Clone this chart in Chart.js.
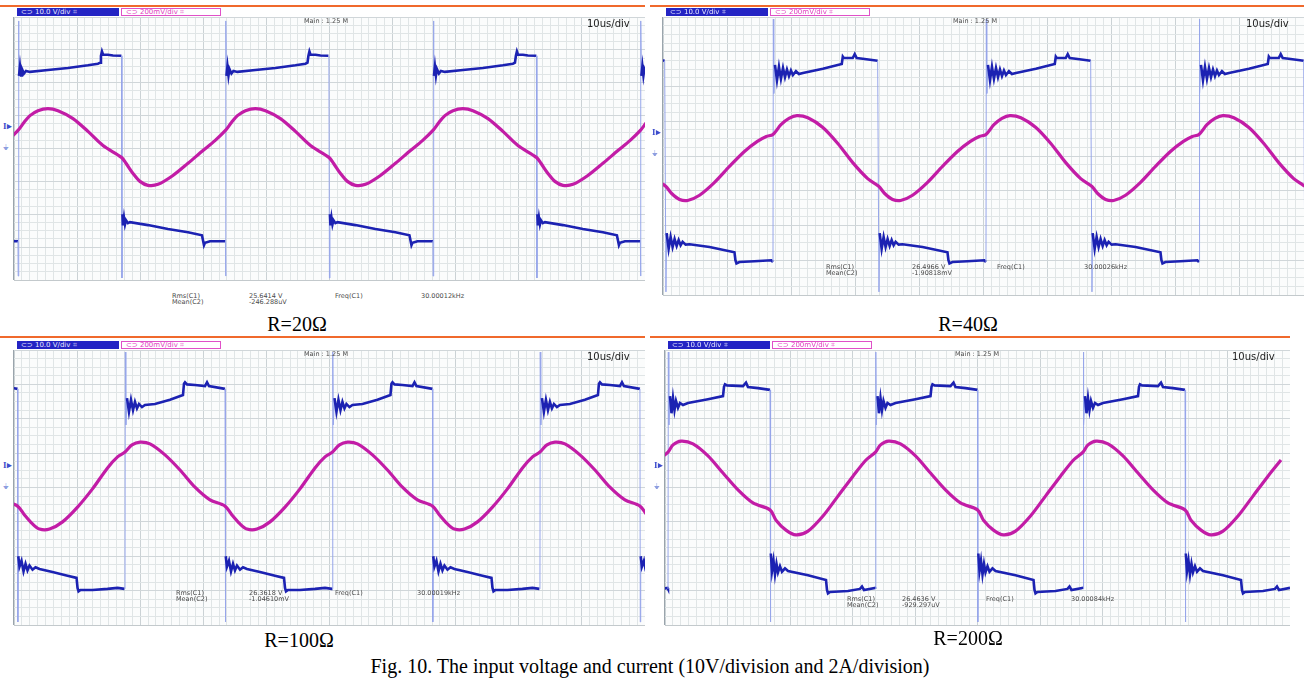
<!DOCTYPE html>
<html lang="en">
<head>
<meta charset="UTF-8">
<title>Fig. 10 - input voltage and current</title>
<script src="https://cdn.jsdelivr.net/npm/chart.js"></script>
<style>
    body {
        margin: 0;
        width: 1304px;
        height: 688px;
        position: relative;
        overflow: hidden;
        background: #ffffff;
        font-family: 'DejaVu Sans', sans-serif;
    }

    canvas.scope {
        position: absolute;
        background: #fbfcfc;
        box-shadow: -1px 0 0 #9aa4ac, 0 1px 0 #c3c9cc;
    }

    .orange {
        position: absolute;
        height: 2px;
        background: #f0692c;
    }

    .ch1, .ch2 {
        position: absolute;
        height: 8px;
        font-size: 7px;
        line-height: 8px;
        box-sizing: border-box;
        padding-left: 4px;
        white-space: nowrap;
        overflow: hidden;
    }

    .ch1 {
        background: #2424c4;
        color: #e8e8ff;
    }

    .ch2 {
        background: #ffffff;
        border: 1px solid #e050c8;
        line-height: 6px;
        color: #e040c0;
    }

    .txt {
        position: absolute;
        font-size: 6.5px;
        line-height: 6px;
        color: #4a4a4a;
        white-space: pre;
    }

    .tdiv {
        position: absolute;
        font-size: 10px;
        color: #222222;
        white-space: nowrap;
    }

    .mark {
        position: absolute;
        font-family: 'Liberation Serif', serif;
        font-weight: bold;
        font-size: 10px;
        color: #3c4ccc;
    }

    .gnd {
        position: absolute;
        font-size: 8px;
        color: #8e9ee0;
    }

    .caption {
        position: absolute;
        font-family: 'Liberation Serif', serif;
        font-size: 20px;
        color: #000000;
        transform: translateX(-50%);
        white-space: nowrap;
    }
</style>
</head>

<body>

<script>
    // time in microseconds after a rising edge (one period), level in screen divisions
    const panelNames = ['R=20Ω', 'R=40Ω', 'R=100Ω', 'R=200Ω'];
    const periodUs = [32.88, 33.23, 32.88, 33.2];
    const firstEdgeUs = [0.63, 17.16, 17.59, 0.48];

    const rmsC1 = ['25.6414 V', '26.4966 V', '26.3618 V', '26.4636 V'];
    const meanC2 = ['-246.288uV', '-1.90818mV', '-1.04610mV', '-929.297uV'];
    const freqC1 = ['30.00012kHz', '30.00026kHz', '30.00019kHz', '30.00084kHz'];

    // R = 20 ohm
    const volt20Time = [0, 0.03, 0.08, 0.16, 0.32, 0.48, 0.63, 0.95, 1.27, 1.9, 4.75, 7.92, 11.09, 12.68, 13.0, 13.15, 13.31, 13.47, 14.26, 15.06,
        16.32, 16.4, 16.48, 16.56, 16.64, 16.8, 16.96, 17.12, 17.43, 17.75, 20.6, 23.77, 26.94, 29.16, 29.32, 29.48, 29.64, 30.43, 31.7];
    const volt20Div = [1.18, 0.12, 7.88, 6.21, 6.5, 6.22, 6.42, 6.28, 6.36, 6.33, 6.39, 6.45, 6.53, 6.58, 6.61, 6.82, 6.95, 6.86, 6.85, 6.83,
        6.82, 6.82, 0.06, 2.0, 1.66, 1.9, 1.69, 1.82, 1.73, 1.76, 1.67, 1.55, 1.45, 1.36, 1.21, 1.06, 1.13, 1.18, 1.18];
    const curr20Time = [0, 0.95, 1.9, 3.17, 4.75, 6.34, 8.72, 11.09, 13.47, 16.4, 17.12, 18.23, 19.33, 20.6, 22.19, 24.56, 26.94, 29.32, 31.22];
    const curr20Div = [4.55, 4.79, 5.0, 5.15, 5.21, 5.15, 4.91, 4.52, 4.09, 3.73, 3.55, 3.24, 3.0, 2.88, 2.91, 3.18, 3.55, 3.94, 4.24];

    // R = 40 ohm
    const volt40Time = [0, 0.05, 0.12, 0.31, 0.62, 0.93, 1.24, 1.56, 1.87, 2.18, 2.49, 2.8, 3.11, 3.58, 4.04, 4.67, 7.78, 10.73, 10.89, 11.04,
        12.44, 12.75, 13.06, 14.0, 16.33, 16.53, 16.64, 16.95, 17.26, 17.57, 17.88, 18.2, 18.51, 18.82, 19.13, 19.6, 20.22, 23.33, 27.22, 27.37,
        27.53, 27.99, 30.33, 32.97];
    const volt40Div = [0.95, 7.94, 5.8, 6.62, 6.18, 6.57, 6.22, 6.53, 6.27, 6.49, 6.3, 6.46, 6.33, 6.44, 6.36, 6.39, 6.51, 6.65, 6.86, 6.82,
        6.82, 6.93, 6.82, 6.8, 6.74, 0.09, 1.78, 1.33, 1.67, 1.38, 1.61, 1.41, 1.58, 1.43, 1.53, 1.45, 1.46, 1.38, 1.23, 1.0,
        0.91, 0.95, 0.97, 1.0];
    const curr40Time = [0, 1.24, 2.49, 3.73, 5.44, 7.78, 10.11, 12.44, 14.77, 16.49, 17.42, 18.66, 19.91, 21.77, 24.11, 26.44, 28.77, 30.79, 32.19];
    const curr40Div = [4.62, 4.9, 5.08, 5.16, 5.1, 4.82, 4.36, 3.81, 3.35, 3.13, 2.92, 2.75, 2.72, 2.87, 3.24, 3.7, 4.13, 4.42, 4.56];

    // R = 100 ohm
    const volt100Time = [0, 0.05, 0.13, 0.32, 0.63, 0.95, 1.27, 1.58, 1.9, 2.22, 2.69, 3.17, 4.75, 7.13, 9.19, 9.35, 9.51, 9.83, 11.09, 12.68,
        13.0, 13.31, 15.85, 15.9, 15.97, 16.16, 16.48, 16.8, 17.12, 17.43, 17.75, 18.23, 18.7, 19.33, 21.39, 23.77, 25.2, 25.36, 25.52, 25.83,
        27.73, 30.11, 31.7, 32.8];
    const volt100Div = [1.05, 7.94, 5.82, 6.6, 6.2, 6.55, 6.25, 6.49, 6.3, 6.43, 6.34, 6.4, 6.43, 6.55, 6.69, 7.02, 7.06, 7.0, 6.98, 6.95,
        7.06, 6.95, 6.87, 0.09, 2.0, 1.7, 1.87, 1.56, 1.78, 1.59, 1.73, 1.61, 1.68, 1.63, 1.54, 1.43, 1.37, 1.08, 0.98, 1.02,
        1.02, 1.05, 1.08, 1.05];
    const curr100Time = [0, 1.11, 2.38, 3.96, 6.34, 8.72, 11.09, 13.47, 15.85, 16.96, 18.23, 19.33, 20.92, 22.98, 25.36, 27.73, 30.11, 31.7];
    const curr100Div = [5.03, 5.24, 5.32, 5.27, 4.95, 4.51, 4.01, 3.64, 3.46, 3.2, 2.94, 2.79, 2.79, 3.0, 3.43, 3.96, 4.57, 4.89];

    // R = 200 ohm
    const volt200Time = [0, 0.05, 0.13, 0.32, 0.56, 0.8, 1.04, 1.28, 1.6, 1.92, 2.4, 3.2, 6.4, 8.8, 8.96, 9.12, 9.44, 12.0, 12.48, 12.8,
        14.4, 16.32, 16.37, 16.45, 16.64, 16.88, 17.12, 17.36, 17.6, 17.92, 18.24, 18.72, 19.2, 22.4, 25.28, 25.44, 25.6, 25.92, 28.8, 30.72,
        31.04, 31.36, 33.12];
    const volt200Div = [1.05, 7.94, 5.82, 6.66, 6.16, 6.6, 6.25, 6.52, 6.32, 6.46, 6.4, 6.46, 6.57, 6.66, 6.93, 7.0, 6.97, 6.95, 7.05, 6.92,
        6.89, 6.84, 0.09, 2.08, 1.57, 1.87, 1.47, 1.78, 1.53, 1.71, 1.55, 1.65, 1.57, 1.45, 1.31, 1.02, 0.92, 0.96, 0.99, 1.05,
        1.12, 1.02, 1.08];
    const curr200Time = [0, 0.8, 2.08, 4.0, 6.4, 8.8, 11.2, 13.6, 16.32, 17.28, 18.88, 20.48, 22.4, 24.8, 27.2, 29.6, 31.68];
    const curr200Div = [5.03, 5.24, 5.35, 5.27, 4.92, 4.42, 3.93, 3.55, 3.35, 3.05, 2.76, 2.62, 2.73, 3.17, 3.75, 4.33, 4.8];

    const voltTimes = [volt20Time, volt40Time, volt100Time, volt200Time];
    const voltDivs = [volt20Div, volt40Div, volt100Div, volt200Div];
    const currTimes = [curr20Time, curr40Time, curr100Time, curr200Time];
    const currDivs = [curr20Div, curr40Div, curr100Div, curr200Div];

    // screen layout of each scope shot (plot rectangle) and its caption
    const layout = [
        {left: 14, top: 17, w: 631, h: 263, orangeY: 5, orangeX: 0, orangeW: 645, capX: 297, capY: 313, measY: 293},
        {left: 663, top: 17, w: 641, h: 278, orangeY: 5, orangeX: 650, orangeW: 654, capX: 968, capY: 313, measY: 264},
        {left: 14, top: 350, w: 631, h: 275, orangeY: 336, orangeX: 0, orangeW: 645, capX: 299, capY: 629, measY: 590},
        {left: 665, top: 350, w: 625, h: 275, orangeY: 336, orangeX: 650, orangeW: 640, capX: 968, capY: 627, measY: 596}
    ];
    const measCols = [
        [172, 249, 335, 421],
        [826, 912, 997, 1084],
        [176, 249, 335, 417],
        [847, 902, 986, 1071]
    ];

    function el(cls, text, css) {
        const d = document.createElement('div');
        d.className = cls;
        if (text) d.textContent = text;
        Object.assign(d.style, css);
        document.body.appendChild(d);
        return d;
    }

    // repeat the one-period trace over the 100 us screen
    function tile(times, values, first, period) {
        const pts = [];
        for (let k = -1; first + k * period < 100; k++) {
            for (let i = 0; i < times.length; i++) {
                pts.push({x: first + k * period + times[i], y: values[i]});
            }
        }
        return pts;
    }

    // switching edges are drawn thin and pale, like on the scope
    function isEdge(ctx) {
        return Math.abs(ctx.p1.x - ctx.p0.x) < 3 && Math.abs(ctx.p1.y - ctx.p0.y) > 25;
    }

    function near(v, step) {
        return Math.abs(v / step - Math.round(v / step)) < 1e-6;
    }

    layout.forEach((L, p) => {
        el('orange', '', {left: L.orangeX + 'px', top: L.orangeY + 'px', width: L.orangeW + 'px'});
        el('ch1', '⊂⊃  10.0 V/div  ⌗', {left: (L.left + 3) + 'px', top: (L.top - 9) + 'px', width: '102px'});
        el('ch2', '⊂⊃  200mV/div  ⌗', {left: (L.left + 107) + 'px', top: (L.top - 9) + 'px', width: '100px'});

        const c = document.createElement('canvas');
        c.className = 'scope';
        c.width = L.w;
        c.height = L.h;
        c.style.left = L.left + 'px';
        c.style.top = L.top + 'px';
        document.body.appendChild(c);

        new Chart(c, {
            type: 'scatter',
            data: {
                datasets: [{
                    data: tile(currTimes[p], currDivs[p], firstEdgeUs[p], periodUs[p]),
                    showLine: true,
                    borderColor: '#c21ca6',
                    borderWidth: 3.2,
                    pointRadius: 0,
                    tension: 0.3
                }, {
                    data: tile(voltTimes[p], voltDivs[p], firstEdgeUs[p], periodUs[p]),
                    showLine: true,
                    borderColor: '#1c22b2',
                    borderWidth: 2.6,
                    pointRadius: 0,
                    tension: 0,
                    segment: {
                        borderColor: ctx => isEdge(ctx) ? '#97a6ea' : undefined,
                        borderWidth: ctx => isEdge(ctx) ? 1 : undefined
                    }
                }]
            },
            options: {
                responsive: false,
                animation: false,
                events: [],
                layout: {padding: 0},
                plugins: {legend: {display: false}, tooltip: {enabled: false}},
                scales: {
                    x: {
                        type: 'linear', min: 0, max: 100,
                        ticks: {display: false, stepSize: 1.25, maxTicksLimit: 200},
                        grid: {drawTicks: false, lineWidth: 1, color: ctx => near(ctx.tick.value, 10) ? '#cbd2d5' : '#e0e5e6'},
                        border: {display: false}
                    },
                    y: {
                        min: 0, max: 8,
                        ticks: {display: false, stepSize: 0.25, maxTicksLimit: 100},
                        grid: {drawTicks: false, lineWidth: 1, color: ctx => near(ctx.tick.value, 1) ? '#d0d6d9' : '#e0e5e6'},
                        border: {display: false}
                    }
                }
            }
        });

        // scope annotations
        el('txt', 'Main : 1.25 M', {left: (L.left + 290) + 'px', top: (L.top + 1) + 'px'});
        el('tdiv', '10us/div', {left: (L.left + L.w - 58) + 'px', top: (L.top + 1) + 'px'});
        const markY = L.top + (p === 0 ? 104 : 110);
        el('mark', 'I▸', {left: (L.left - 11) + 'px', top: markY + 'px', fontSize: '9px'});
        el('gnd', '⏚', {left: (L.left - 11) + 'px', top: (markY + 22) + 'px'});

        const cols = measCols[p];
        el('txt', 'Rms(C1)\nMean(C2)', {left: cols[0] + 'px', top: L.measY + 'px'});
        el('txt', rmsC1[p] + '\n' + meanC2[p], {left: cols[1] + 'px', top: L.measY + 'px'});
        el('txt', 'Freq(C1)', {left: cols[2] + 'px', top: L.measY + 'px'});
        el('txt', freqC1[p], {left: cols[3] + 'px', top: L.measY + 'px'});

        el('caption', panelNames[p], {left: L.capX + 'px', top: L.capY + 'px'});
    });

    el('caption', 'Fig. 10. The input voltage and current (10V/division and 2A/division)', {left: '650px', top: '655px'});
</script>
</body>

</html>
